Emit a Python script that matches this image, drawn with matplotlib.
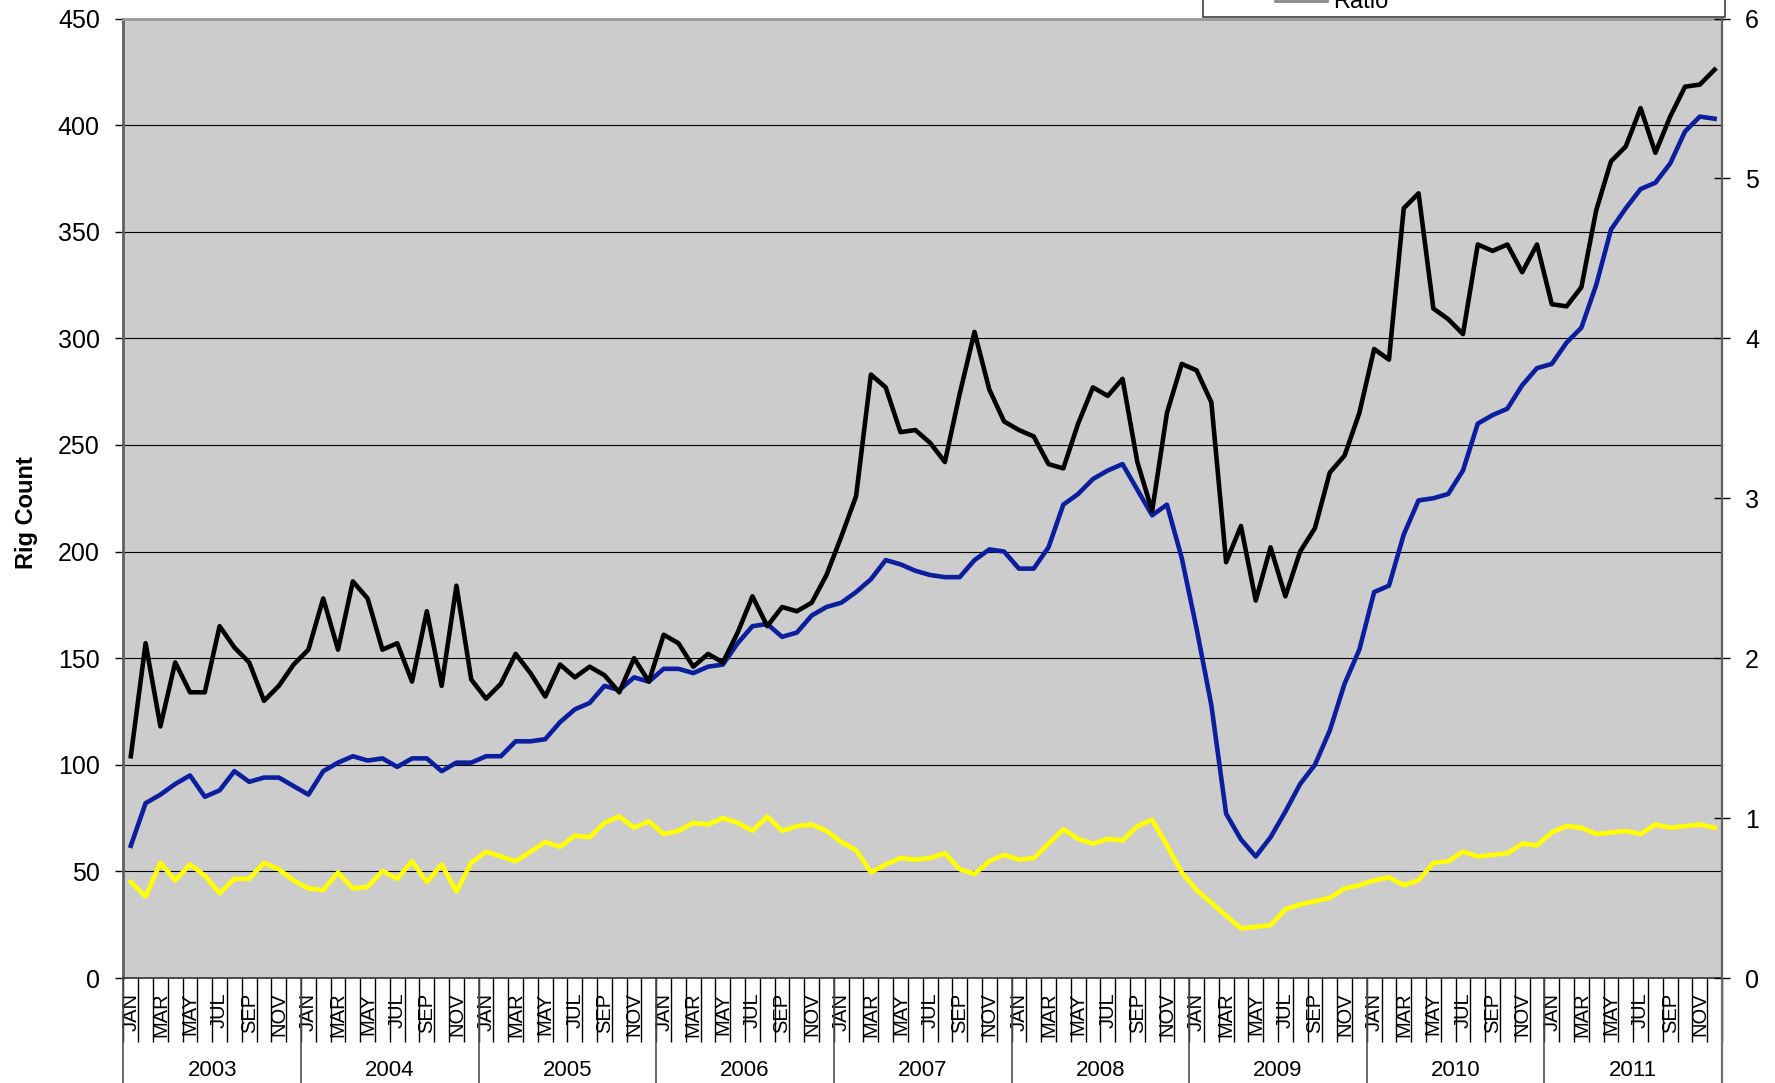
import matplotlib
matplotlib.use('Agg')
import matplotlib.pyplot as plt
from matplotlib.transforms import blended_transform_factory
from matplotlib.patches import Rectangle
from matplotlib.lines import Line2D
import numpy as np

plt.rcParams['font.family'] = ['Liberation Sans', 'DejaVu Sans']

years = ['2003', '2004', '2005', '2006', '2007', '2008', '2009', '2010', '2011']
months = ['JAN', 'FEB', 'MAR', 'APR', 'MAY', 'JUN', 'JUL', 'AUG', 'SEP', 'OCT', 'NOV', 'DEC']

# black series (left axis)
black = [
    104, 157, 118, 148, 134, 134, 165, 155, 148, 130, 137, 147,   # 2003
    154, 178, 154, 186, 178, 154, 157, 139, 172, 137, 184, 140,   # 2004
    131, 138, 152, 143, 132, 147, 141, 146, 142, 134, 150, 139,   # 2005
    161, 157, 146, 152, 148, 162, 179, 165, 174, 172, 176, 189,   # 2006
    207, 226, 283, 277, 256, 257, 251, 242, 274, 303, 276, 261,   # 2007
    257, 254, 241, 239, 260, 277, 273, 281, 242, 219, 265, 288,   # 2008
    285, 270, 195, 212, 177, 202, 179, 200, 211, 237, 245, 265,   # 2009
    295, 290, 361, 368, 314, 309, 302, 344, 341, 344, 331, 344,   # 2010
    316, 315, 324, 360, 383, 390, 408, 387, 404, 418, 419, 426,   # 2011
]

# blue series (left axis)
blue = [
    62, 82, 86, 91, 95, 85, 88, 97, 92, 94, 94, 90,               # 2003
    86, 97, 101, 104, 102, 103, 99, 103, 103, 97, 101, 101,       # 2004
    104, 104, 111, 111, 112, 120, 126, 129, 137, 135, 141, 139,   # 2005
    145, 145, 143, 146, 147, 157, 165, 166, 160, 162, 170, 174,   # 2006
    176, 181, 187, 196, 194, 191, 189, 188, 188, 196, 201, 200,   # 2007
    192, 192, 202, 222, 227, 234, 238, 241, 229, 217, 222, 197,   # 2008
    164, 128, 77, 65, 57, 66, 78, 91, 100, 116, 138, 154,         # 2009
    181, 184, 208, 224, 225, 227, 238, 260, 264, 267, 278, 286,   # 2010
    288, 298, 305, 325, 351, 361, 370, 373, 382, 397, 404, 403,   # 2011
]

# ratio series (right axis)
ratio = [
    0.60, 0.51, 0.72, 0.61, 0.71, 0.64, 0.53, 0.62, 0.62, 0.72, 0.68, 0.61,   # 2003
    0.56, 0.55, 0.66, 0.56, 0.57, 0.67, 0.62, 0.73, 0.60, 0.71, 0.54, 0.72,   # 2004
    0.79, 0.76, 0.73, 0.79, 0.85, 0.82, 0.89, 0.88, 0.97, 1.01, 0.94, 0.98,   # 2005
    0.90, 0.92, 0.97, 0.96, 1.00, 0.97, 0.92, 1.01, 0.92, 0.95, 0.96, 0.92,   # 2006
    0.85, 0.80, 0.66, 0.71, 0.75, 0.74, 0.75, 0.78, 0.68, 0.65, 0.73, 0.77,   # 2007
    0.74, 0.75, 0.84, 0.93, 0.87, 0.84, 0.87, 0.86, 0.95, 0.99, 0.83, 0.66,   # 2008
    0.55, 0.47, 0.39, 0.31, 0.32, 0.33, 0.43, 0.46, 0.48, 0.50, 0.56, 0.58,   # 2009
    0.61, 0.63, 0.58, 0.61, 0.72, 0.73, 0.79, 0.76, 0.77, 0.78, 0.84, 0.83,   # 2010
    0.91, 0.95, 0.94, 0.90, 0.91, 0.92, 0.90, 0.96, 0.94, 0.95, 0.96, 0.94,   # 2011
]

W, H = 1775, 1083
fig = plt.figure(figsize=(W / 100, H / 100), dpi=100)

# axes rectangle in pixels
L, R, T, B = 123.4, 1722.0, 18.5, 978.0
ax = fig.add_axes([L / W, 1 - B / H, (R - L) / W, (B - T) / H])
ax.set_facecolor('#CCCCCC')

n = len(black)
x = np.arange(n)
ax.set_xlim(-0.5, n - 0.5)
ax.set_ylim(0, 450)
ax.set_yticks(np.arange(0, 451, 50))
ax.yaxis.grid(True, color='black', lw=0.8)
ax.set_axisbelow(True)

ax.plot(x, blue, color='#0A1E9E', lw=3.3, zorder=3)
ax.plot(x, black, color='black', lw=3.3, zorder=4)

ax2 = ax.twinx()
ax2.set_ylim(0, 6)
ax2.set_yticks(np.arange(0, 7, 1))
ax2.plot(x, ratio, color='#FFFF00', lw=3.3, zorder=3)

# spines
for a in (ax, ax2):
    for s in a.spines.values():
        s.set_visible(False)
ax.spines['left'].set_visible(True)
ax.spines['left'].set_color('#606060')
ax.spines['left'].set_linewidth(2)
ax.spines['top'].set_visible(True)
ax.spines['top'].set_color('#999999')
ax.spines['top'].set_linewidth(2)
ax.spines['bottom'].set_visible(True)
ax.spines['bottom'].set_color('#303030')
ax.spines['bottom'].set_linewidth(1.2)
ax2.spines['right'].set_visible(True)
ax2.spines['right'].set_color('#606060')
ax2.spines['right'].set_linewidth(1.6)

ax.tick_params(axis='y', direction='out', length=6, width=1, labelsize=18, pad=11, colors='black')
ax2.tick_params(axis='y', direction='inout', length=11, width=1, labelsize=18, pad=11)

# x axis: month boundaries as major ticks, labels at month centres (minor)
ax.set_xticks(np.arange(-0.5, n, 1))
ax.set_xticklabels([])
ax.tick_params(axis='x', which='major', direction='out', length=46, width=1, color='black')
lab_pos = x[::2]
lab_txt = [months[i % 12] for i in lab_pos]
ax.set_xticks(lab_pos, minor=True)
ax.set_xticklabels(lab_txt, minor=True)
ax.tick_params(axis='x', which='minor', length=0, pad=10.5, labelsize=14.5, labelrotation=90)

# year separators and year labels
trans = blended_transform_factory(ax.transData, ax.transAxes)
for k, yr in enumerate(years):
    x0 = 12 * k - 0.5
    ax.add_line(Line2D([x0, x0], [0, -0.15], transform=trans, color='#505050', lw=1.2, clip_on=False))
    ax.text(12 * k + 5.5, -(1070 - B) / (B - T), yr, transform=trans, ha='center', va='center', fontsize=16)
xe = n - 0.5
ax.add_line(Line2D([xe, xe], [0, -0.15], transform=trans, color='#707070', lw=1.6, clip_on=False))

# y axis title
fig.text(26 / W, 1 - 513 / H, 'Rig Count', rotation=90, ha='center', va='center', fontsize=17, fontweight='bold')

# legend box (mostly above the visible figure area, as in the source image)
fig.patches.append(Rectangle((1203 / W, 1 - 17 / H), (1725 - 1203) / W, 0.05, transform=fig.transFigure,
                             facecolor='white', edgecolor='#404040', lw=1.2, zorder=5))
fig.lines.append(Line2D([1275 / W, 1327 / W], [1 - 0.8 / H, 1 - 0.8 / H], transform=fig.transFigure,
                        color='#888888', lw=2, zorder=6))
fig.text(1333 / W, 1 - 8 / H, 'Ratio', ha='left', va='baseline', fontsize=17, zorder=6)

fig.savefig('out.png', dpi=100)
